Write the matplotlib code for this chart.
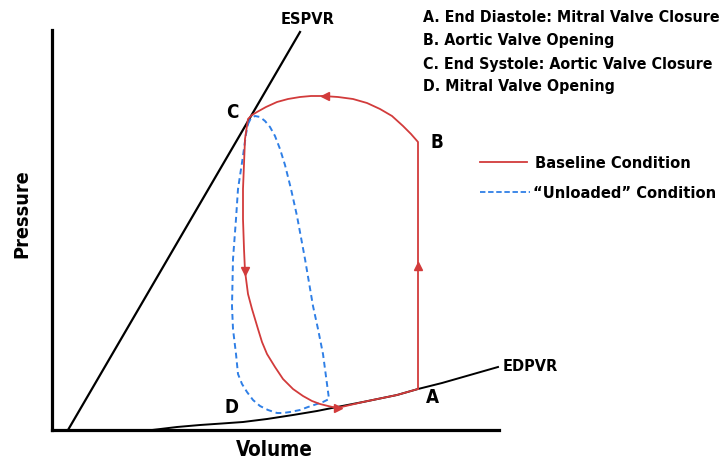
import matplotlib.pyplot as plt

# pressure-volume loop readings (arbitrary units)
base_vol = [366, 366, 359, 351, 340, 328, 315, 301, 286, 271, 259, 248, 236, 225,
            214, 205, 200, 196,
            193, 191, 191, 192, 193, 196, 200, 206, 210, 215, 223, 231, 241,
            251, 260, 268, 276, 285,
            311, 345, 366]
base_prs = [41, 288, 296, 304, 314, 321, 327, 331, 333, 334, 334, 333, 331, 328,
            323, 318, 315, 311,
            291, 241, 211, 181, 159, 136, 121, 101, 88, 76, 63, 51, 41,
            34, 29, 26, 24, 22,
            28, 35, 41]

unl_vol = [196, 199, 203, 208, 213, 218, 223, 228, 233, 239, 245, 253, 261,
           266, 271, 275, 277, 271, 265, 256, 248, 238, 231, 225, 216, 208,
           201, 195, 190, 186, 184, 181, 180, 181, 184, 186, 191, 194, 196]
unl_prs = [306, 312, 314, 313, 309, 303, 294, 281, 265, 241, 214, 171, 124,
           101, 76, 46, 31, 28, 26, 23, 20, 18, 17, 17, 20, 24,
           30, 38, 46, 56, 76, 101, 124, 171, 211, 241, 274, 296, 306]

edpvr_vol = [100, 125, 148, 170, 191, 215, 241, 265, 285, 311, 345, 366, 390, 411, 446]
edpvr_prs = [0, 3, 5, 6.5, 8, 11, 15, 19, 23, 28, 35, 41, 47, 53, 63]

espvr_vol = [16, 248]
espvr_prs = [0, 398]

# arrow heads on the baseline loop: (volume, pressure, marker)
arrows = [(366, 164, '^'), (273, 334, '<'), (193, 159, 'v'), (286, 22, '>')]

points = {'A': (380, 33), 'B': (385, 288), 'C': (180, 318), 'D': (180, 23)}

notes = ['A. End Diastole: Mitral Valve Closure',
         'B. Aortic Valve Opening',
         'C. End Systole: Aortic Valve Closure',
         'D. Mitral Valve Opening']

red = '#d23b3b'
blue = '#2f7fe6'
font = ['DejaVu Sans']
stretch = 'condensed'

W, H = 722, 460
fig = plt.figure(figsize=(W / 100, H / 100), dpi=100)
ax = fig.add_axes([52 / W, (H - 431) / H, 447 / W, 400 / H])
ax.set_xlim(0, 447)
ax.set_ylim(0, 400)
ax.set_xticks([])
ax.set_yticks([])
for s in ['top', 'right']:
    ax.spines[s].set_visible(False)
for s in ['left', 'bottom']:
    ax.spines[s].set_linewidth(2.3)

ax.plot(espvr_vol, espvr_prs, color='black', lw=1.6, clip_on=False)
ax.plot(edpvr_vol, edpvr_prs, color='black', lw=1.4, clip_on=False)
ax.plot(unl_vol, unl_prs, color=blue, lw=1.4, dashes=(3, 2))
ax.plot(base_vol, base_prs, color=red, lw=1.3)
for v, p, m in arrows:
    ax.plot(v, p, marker=m, color=red, ms=5.5, mec=red)

for k, (v, p) in points.items():
    ax.text(v, p, k, ha='center', va='center', fontsize=13.5,
            fontweight='bold', family=font, fontstretch=stretch)

ax.text(256, 411, 'ESPVR', ha='center', va='center', fontsize=11.7,
        fontweight='bold', family=font, fontstretch=stretch, clip_on=False)
ax.text(451, 64, 'EDPVR', ha='left', va='center', fontsize=11.6,
        fontweight='bold', family=font, fontstretch=stretch, clip_on=False)

# legend drawn by hand
ax.plot([428, 475], [268, 268], color=red, lw=1.3, clip_on=False)
ax.plot([428, 478], [238, 238], color=blue, lw=1.3, dashes=(3, 1.5), clip_on=False)
ax.text(483, 268, 'Baseline Condition', ha='left', va='center', fontsize=11.8,
        fontweight='bold', family=font, fontstretch=stretch)
ax.text(481, 238, '\u201cUnloaded\u201d Condition', ha='left', va='center',
        fontsize=11.8, fontweight='bold', family=font, fontstretch=stretch)

for i, t in enumerate(notes):
    fig.text(423 / W, 1 - (18 + i * 23) / H, t, ha='left', va='center',
             fontsize=11.4, fontweight='bold', family=font, fontstretch=stretch)

fig.text(22 / W, 1 - 214 / H, 'Pressure', rotation=90, ha='center', va='center',
         fontsize=14.2, fontweight='bold', family=font, fontstretch=stretch)
fig.text(274 / W, 1 - 450 / H, 'Volume', ha='center', va='center',
         fontsize=14.8, fontweight='bold', family=font, fontstretch=stretch)

fig.savefig('out.png', dpi=100)
